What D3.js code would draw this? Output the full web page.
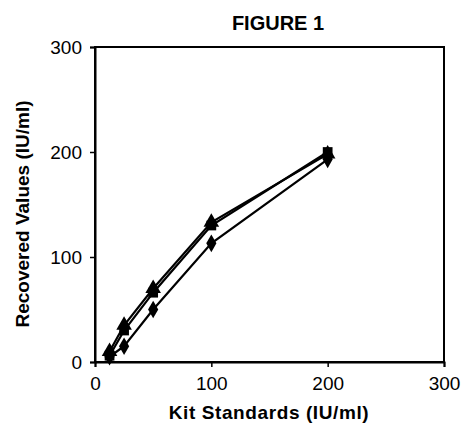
<!DOCTYPE html>
<html>
<head>
<meta charset="utf-8">
<script src="https://d3js.org/d3.v7.min.js"></script>
<style>
  body { margin: 0; background: #fff; }
  text { font-family: "Liberation Sans", Arial, sans-serif; fill: #000; }
</style>
</head>
<body>
<div id="chart"></div>
<script>
// Data
var standards = [12.5, 25, 50, 100, 200];
var seriesDiamond = [5, 15, 50, 113, 193];
var seriesSquare = [6, 30, 66, 130, 200];
var seriesTriangle = [10, 35, 70, 133, 198];
var xTicks = [0, 100, 200, 300];
var yTicks = [0, 100, 200, 300];

var svgWidth = 463, svgHeight = 433;
var margin = { top: 47, right: 19, bottom: 71, left: 95 };
var chartWidth = svgWidth - margin.left - margin.right;
var chartHeight = svgHeight - margin.top - margin.bottom;

var svg = d3.select("#chart").append("svg")
  .attr("width", svgWidth)
  .attr("height", svgHeight);

var chartGroup = svg.append("g")
  .attr("transform", `translate(${margin.left}, ${margin.top})`);

var xScale = d3.scaleLinear().domain([0, 300]).range([0, chartWidth]);
var yScale = d3.scaleLinear().domain([0, 300]).range([chartHeight, 0]);

// box
chartGroup.append("rect")
  .attr("width", chartWidth)
  .attr("height", chartHeight)
  .attr("fill", "none")
  .attr("stroke", "#000")
  .attr("stroke-width", 2);

// axes
var bottomAxis = d3.axisBottom(xScale).tickValues(xTicks).tickSize(5).tickPadding(10);
var leftAxis = d3.axisLeft(yScale).tickValues(yTicks).tickSize(5).tickPadding(8);

var xAxis = chartGroup.append("g")
  .attr("transform", `translate(0, ${chartHeight})`)
  .call(bottomAxis);
var yAxis = chartGroup.append("g").call(leftAxis);

[xAxis, yAxis].forEach(function(ax) {
  ax.select(".domain").attr("stroke", "#000").attr("stroke-width", 2);
  ax.selectAll(".tick line").attr("stroke", "#000").attr("stroke-width", 1.5);
  ax.selectAll(".tick text")
    .style("font-family", "Liberation Sans, Arial, sans-serif")
    .style("font-size", "19px")
    .attr("fill", "#000");
});

// series
var series = [
  { name: "diamond", values: seriesDiamond, symbol: d3.symbolDiamond, size: 90 },
  { name: "square", values: seriesSquare, symbol: d3.symbolSquare, size: 95 },
  { name: "triangle", values: seriesTriangle, symbol: d3.symbolTriangle, size: 105 }
];

var line = d3.line()
  .x(d => xScale(d[0]))
  .y(d => yScale(d[1]));

series.forEach(function(s) {
  var pts = standards.map((x, i) => [x, s.values[i]]);
  chartGroup.append("path")
    .datum(pts)
    .attr("d", line)
    .attr("fill", "none")
    .attr("stroke", "#000")
    .attr("stroke-width", 2.2);

  chartGroup.selectAll(".pt-" + s.name)
    .data(pts)
    .enter()
    .append("path")
    .attr("class", "pt-" + s.name)
    .attr("transform", d => `translate(${xScale(d[0])}, ${yScale(d[1])})`)
    .attr("d", d3.symbol().type(s.symbol).size(s.size))
    .attr("fill", "#000");
});

// labels
svg.append("text")
  .attr("x", 278)
  .attr("y", 30)
  .attr("text-anchor", "middle")
  .style("font-size", "20px")
  .style("font-weight", "bold")
  .text("FIGURE 1");

svg.append("text")
  .attr("transform", "rotate(-90)")
  .attr("x", -214)
  .attr("y", 29)
  .attr("text-anchor", "middle")
  .style("font-size", "19px")
  .style("font-weight", "bold")
  .text("Recovered Values (IU/ml)");

svg.append("text")
  .attr("x", 269)
  .attr("y", 419)
  .attr("text-anchor", "middle")
  .style("font-size", "19px")
  .style("font-weight", "bold")
  .style("letter-spacing", "0.6px")
  .text("Kit Standards (IU/ml)");
</script>
</body>
</html>
